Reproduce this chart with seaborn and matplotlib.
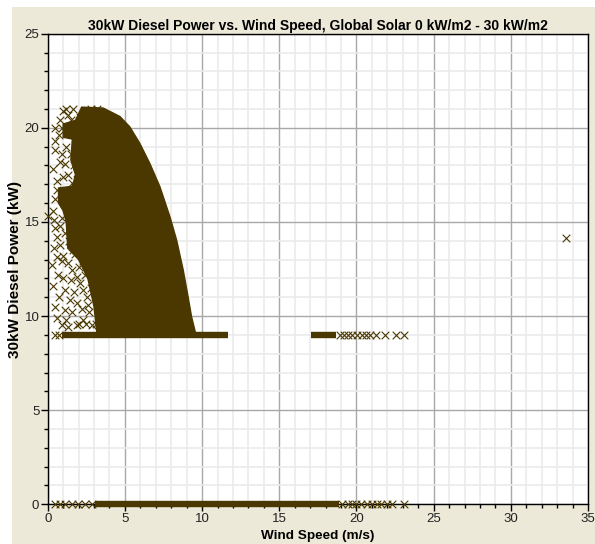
import matplotlib
matplotlib.use("Agg")
import matplotlib.pyplot as plt
from matplotlib.patches import Rectangle
from matplotlib.ticker import MultipleLocator
import seaborn as sns
import pandas as pd

sns.set_theme(style="white")
plt.rcParams["font.family"] = ["Liberation Sans", "DejaVu Sans"]

# ---------------- data ----------------
title = "30kW Diesel Power vs. Wind Speed, Global Solar 0 kW/m2 - 30 kW/m2"
xlabel = "Wind Speed (m/s)"
ylabel = "30kW Diesel Power (kW)"
x_ticks = [0, 5, 10, 15, 20, 25, 30, 35]
y_ticks = [0, 5, 10, 15, 20, 25]

# dense core of the point cloud (outline of the solid area)
core_x = [3.2, 3.0, 2.6, 2.0, 1.3, 1.2, 1.0, 0.7, 0.7, 1.6, 1.8, 1.5, 1.6, 1.0, 1.0, 1.8,
          2.2, 3.6, 4.68, 5.32, 5.97, 6.62, 7.27, 7.92, 8.35, 8.78, 9.1, 9.32, 9.53, 9.6]
core_y = [9.0, 10.5, 12.0, 13.0, 13.6, 15.0, 15.6, 16.0, 16.8, 16.9, 17.5, 18.3, 19.4, 19.5, 20.2, 20.4,
          21.1, 21.05, 20.6, 20.05, 19.17, 18.1, 16.87, 15.27, 14.04, 12.44, 11.0, 9.96, 9.26, 9.0]

# dense runs of points along constant power levels
run_y = [9.0, 9.0, 0.0]
run_x0 = [0.9, 17.08, 3.06]
run_x1 = [11.65, 18.7, 18.9]

# individual points (sparse areas)
pts_x = [
    # left sparse region
    0.47, 0.47, 0.58, 0.36, 0.58, 0.58, 0.66, 0.47, 1.12, 1.44, 1.33, 1.12, 1.55, 1.66, 2.09,
    1.88, 2.52, 2.3, 0.9, 0.9, 1.4, 2.0, 2.4, 2.7, 2.0, 1.7, 2.6, 0.4, 0.8, 1.1, 2.9, 2.2,
    1.0, 0.8, 0.6, 0.05,
    0.35, 0.7, 1.0, 1.3, 0.8, 1.0, 1.5, 1.9, 2.3, 2.6, 1.6, 1.2, 0.9, 2.5, 2.8, 2.3, 1.7,
    0.5, 0.3, 0.6, 1.9, 2.1, 2.8, 0.45, 0.35, 0.5, 0.7, 0.9, 1.3, 0.4,
    # mixed region
    1.2, 1.12, 1.88, 1.55, 2.74, 3.17, 3.82, 2.3, 4.47, 1.5, 2.0, 2.5, 3.0, 3.4, 3.9, 4.2,
    2.2, 1.8, 2.6, 3.6, 4.0, 1.3, 2.9, 3.3, 2.1, 4.4, 1.7, 2.45, 3.7, 3.1,
    # top region
    1.0, 1.66, 0.8, 2.1, 1.3, 1.2, 0.9, 1.5, 2.4, 2.8, 3.2,
    # edges of the core
    3.0, 3.3, 2.9, 3.1, 2.5, 1.8,
    # power 9 kW
    0.5, 0.7, 18.92, 19.18, 19.46, 19.74, 20.04, 20.34, 20.65, 20.86, 21.25, 21.83, 22.59, 23.06,
    # power 0 kW
    0.47, 0.8, 1.12, 1.57, 1.96, 2.41, 2.87, 19.05, 19.44, 19.7, 20.0, 20.3, 20.7, 21.0, 21.3,
    21.6, 21.97, 22.3, 23.06,
    # outlier
    33.55,
]
pts_y = [
    19.97, 18.8, 16.7, 15.6, 14.2, 13.15, 12.2, 10.5, 11.4, 10.85, 9.43, 14.4, 12.44, 13.5, 11.73,
    10.7, 11.0, 9.8, 12.9, 15.2, 14.0, 12.6, 12.2, 10.2, 9.6, 11.3, 13.1, 15.1, 13.8, 10.3, 9.5, 10.4,
    17.4, 18.2, 17.2, 15.3,
    11.6, 11.0, 12.0, 12.8, 14.8, 13.2, 11.9, 12.1, 11.4, 10.6, 10.2, 9.8, 9.5, 9.6, 11.5, 12.9, 14.8,
    14.7, 12.7, 9.9, 9.5, 13.8, 12.2, 16.2, 17.8, 19.3, 19.6, 18.6, 16.6, 13.6,
    19.0, 18.1, 17.6, 17.05, 18.46, 17.75, 19.0, 19.2, 18.3, 18.6, 18.2, 17.3, 18.9, 18.3, 17.9, 18.9,
    17.0, 19.1, 18.8, 17.4, 18.5, 17.5, 17.1, 19.3, 18.7, 17.6, 18.0, 17.8, 18.7, 18.1,
    20.9, 21.0, 20.4, 20.6, 20.7, 21.0, 20.0, 20.4, 20.9, 21.0, 21.0,
    11.8, 10.1, 12.6, 9.6, 13.4, 13.3,
    9.0, 9.0, 9.0, 9.0, 9.0, 9.0, 9.0, 9.0, 9.0, 9.0, 9.0, 9.0, 9.0, 9.0,
    0.0, 0.0, 0.0, 0.0, 0.0, 0.0, 0.0, 0.0, 0.0, 0.0, 0.0, 0.0, 0.0, 0.0, 0.0,
    0.0, 0.0, 0.0, 0.0,
    14.14,
]

# ---------------- drawing ----------------
point_color = "#4b3800"
W, H = 595, 544
fig = plt.figure(figsize=(W / 100, H / 100), dpi=100, facecolor="white")
fig.patches.append(Rectangle((12 / W, 0), 1 - 12 / W, 1 - 7 / H, transform=fig.transFigure,
                             facecolor="#ECE9D8", edgecolor="none", zorder=-10))

ax = fig.add_axes([47.7 / W, (H - 504.3) / H, (588 - 47.7) / W, (504.3 - 33.7) / H])
ax.set_facecolor("white")

ax.fill(core_x, core_y, color=point_color, lw=1.0, zorder=3)
ax.hlines(run_y, run_x0, run_x1, color=point_color, lw=4.6, zorder=3, clip_on=False)

df = pd.DataFrame({"x": pts_x, "y": pts_y})
sns.scatterplot(data=df, x="x", y="y", marker="x", color=point_color, s=30,
                linewidth=0.8, ax=ax, zorder=4, legend=False, clip_on=False)

ax.set_xlim(0, 35)
ax.set_ylim(0, 25)
ax.xaxis.set_major_locator(MultipleLocator(5))
ax.yaxis.set_major_locator(MultipleLocator(5))
ax.xaxis.set_minor_locator(MultipleLocator(1))
ax.yaxis.set_minor_locator(MultipleLocator(1))
ax.set_xticks(x_ticks)
ax.set_yticks(y_ticks)
ax.set_xticklabels([str(t) for t in x_ticks])
ax.set_yticklabels([str(t) for t in y_ticks])
ax.grid(which="minor", color="#EBEBEB", lw=1.2)
ax.grid(which="major", color="#A8A8A8", lw=1.0)
ax.set_axisbelow(True)

for s in ax.spines.values():
    s.set_color("black")
    s.set_linewidth(1.0)
ax.tick_params(which="major", direction="out", length=5, width=1, color="black",
               labelsize=9.5, labelcolor="#222222", pad=1, left=True, bottom=True)
ax.tick_params(which="minor", direction="out", length=3, width=1, color="black",
               left=True, bottom=True)

ax.set_title(title, fontsize=10, fontweight="bold", pad=3, color="black")
ax.set_xlabel(xlabel, fontsize=9.7, fontweight="bold", color="black")
ax.set_ylabel(ylabel, fontsize=11, fontweight="bold", color="black")
ax.xaxis.set_label_coords(0.5, -0.055)
ax.yaxis.set_label_coords(-0.048, 0.5)

fig.savefig("out.png", dpi=100, facecolor="white")
